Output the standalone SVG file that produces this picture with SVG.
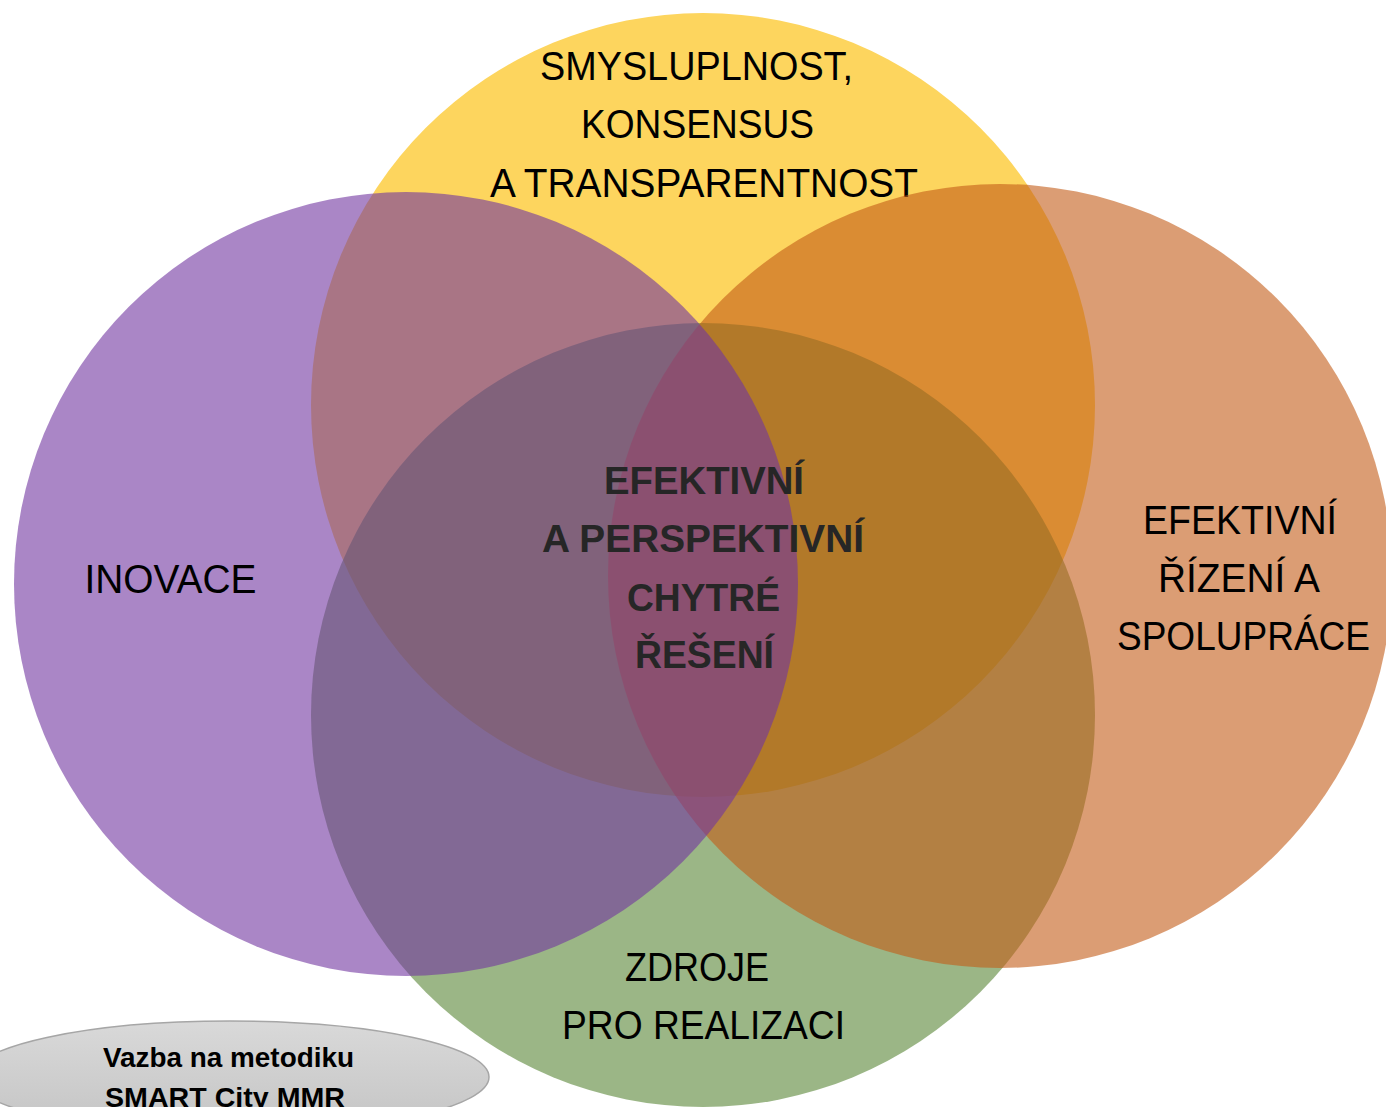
<svg xmlns="http://www.w3.org/2000/svg" width="1386" height="1107" viewBox="0 0 1386 1107">
<defs>
<style>
.lbl{font-family:"Liberation Sans",Arial,sans-serif;font-size:40px;fill:#000;text-anchor:middle}
.ctr{font-family:"Liberation Sans",Arial,sans-serif;font-size:38px;font-weight:bold;fill:#262626;text-anchor:middle}
.note{font-family:"Liberation Sans",Arial,sans-serif;font-size:28px;font-weight:bold;fill:#000;text-anchor:middle}
.c{fill-opacity:0.6}
</style>
<linearGradient id="gr" x1="0" y1="0" x2="0" y2="1">
<stop offset="0" stop-color="#d9d9d9"/>
<stop offset="1" stop-color="#c4c4c4"/>
</linearGradient>
</defs>
<rect width="1386" height="1107" fill="#fff"/>
<g id="node-smysluplnost">
<circle cx="703" cy="405" r="392" fill="#FDD55E"/>
<text class="lbl" x="696.5" y="80" textLength="313" lengthAdjust="spacingAndGlyphs">SMYSLUPLNOST,</text>
<text class="lbl" x="697.5" y="138" textLength="233" lengthAdjust="spacingAndGlyphs">KONSENSUS</text>
<text class="lbl" x="704" y="197" textLength="428" lengthAdjust="spacingAndGlyphs">A TRANSPARENTNOST</text>
</g>
<g id="node-zdroje">
<circle class="c" cx="703" cy="715" r="392" fill="#588535"/>
<text class="lbl" x="697" y="981" textLength="144" lengthAdjust="spacingAndGlyphs">ZDROJE</text>
<text class="lbl" x="703.5" y="1039" textLength="283" lengthAdjust="spacingAndGlyphs">PRO REALIZACI</text>
</g>
<g id="node-rizeni">
<circle class="c" cx="1000" cy="576" r="392" fill="#C35C17"/>
<text class="lbl" x="1240" y="534" textLength="194" lengthAdjust="spacingAndGlyphs">EFEKTIVNÍ</text>
<text class="lbl" x="1239" y="592" textLength="162" lengthAdjust="spacingAndGlyphs">ŘÍZENÍ A</text>
<text class="lbl" x="1243.5" y="650" textLength="253" lengthAdjust="spacingAndGlyphs">SPOLUPRÁCE</text>
</g>
<g id="node-inovace">
<circle class="c" cx="406" cy="584" r="392" fill="#7135A0"/>
<text class="lbl" x="170.5" y="593" textLength="172" lengthAdjust="spacingAndGlyphs">INOVACE</text>
</g>
<g id="node-center">
<text class="ctr" x="704" y="494" textLength="200" lengthAdjust="spacingAndGlyphs">EFEKTIVNÍ</text>
<text class="ctr" x="703" y="552" textLength="322" lengthAdjust="spacingAndGlyphs">A PERSPEKTIVNÍ</text>
<text class="ctr" x="703.5" y="611" textLength="153" lengthAdjust="spacingAndGlyphs">CHYTRÉ</text>
<text class="ctr" x="704.5" y="668" textLength="139" lengthAdjust="spacingAndGlyphs">ŘEŠENÍ</text>
</g>
<g id="node-vazba">
<ellipse cx="230" cy="1077" rx="259" ry="56" fill="url(#gr)" stroke="#a6a6a6" stroke-width="1.5"/>
<text class="note" x="228.5" y="1067" textLength="251" lengthAdjust="spacingAndGlyphs">Vazba na metodiku</text>
<text class="note" x="225" y="1107" textLength="240" lengthAdjust="spacingAndGlyphs">SMART City MMR</text>
</g>
<g id="connectors"/>
</svg>
